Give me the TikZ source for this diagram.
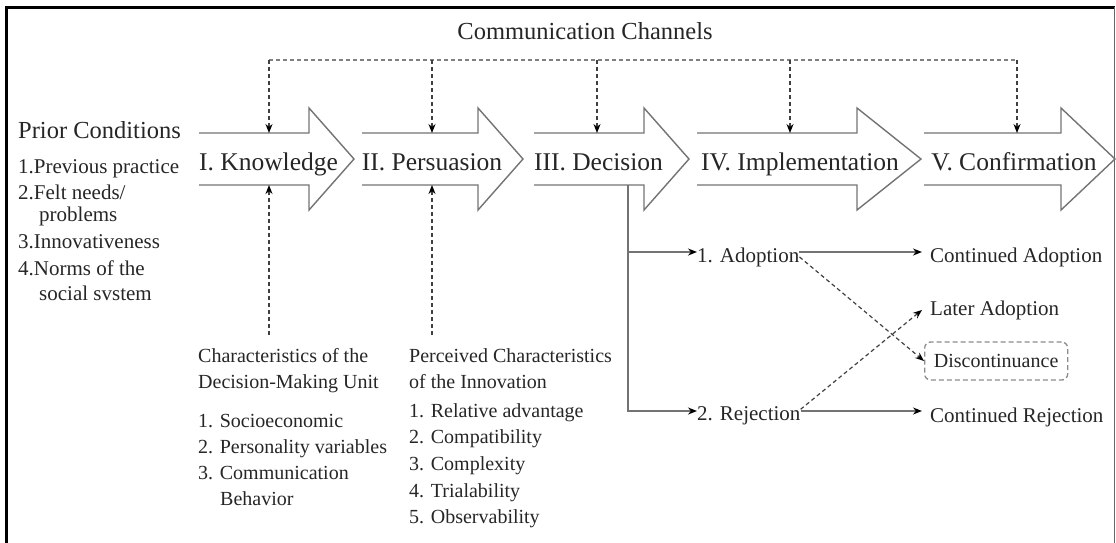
\documentclass[tikz,border=0pt]{standalone}
\usepackage{fontspec}
\setmainfont{Liberation Serif}
\usetikzlibrary{arrows.meta}

\begin{document}
\begin{tikzpicture}[x=1pt, y=-1pt, >={Stealth[length=9pt, width=7pt, color=black]},
  every node/.style={inner sep=0pt, text=black!85},
  stage/.style={draw=black!55, line width=1.4pt, line join=miter},
  stagelbl/.style={font=\fontsize{25.5}{30}\selectfont, anchor=base},
  head/.style={font=\fontsize{24.5}{30}\selectfont, anchor=base west},
  item/.style={font=\fontsize{21}{26}\selectfont, anchor=base west},
  small/.style={font=\fontsize{20}{26}\selectfont, anchor=base west},
  outc/.style={font=\fontsize{21}{26}\selectfont, anchor=base west, inner xsep=8pt},
  chan/.style={dash pattern=on 4pt off 3pt, line width=1.3pt, black!75},
  bus/.style={dash pattern=on 4pt off 3pt, line width=1.2pt, black!50},
  branch/.style={line width=1.4pt, black!55},
  alt/.style={dash pattern=on 4pt off 3pt, line width=1.2pt, black!75},
  disc/.style={draw=black!45, dash pattern=on 5pt off 3pt, line width=1.3pt, rounded corners=6pt,
    minimum width=143pt, minimum height=38pt, anchor=west, font=\fontsize{20}{24}\selectfont}]
  \useasboundingbox (0,0) rectangle (1116,542);

  % Rahmen
  \draw[line width=3pt] (6.5,560) |- (1115,7);
  \draw[black!60, line width=1pt] (1114.5,7) -- (1114.5,560);

  % Kanaele oben
  \node[head, anchor=base] (comm) at (585,39) {Communication Channels};
  \coordinate (bus-w) at (269,60);
  \coordinate (bus-e) at (1017,60);
  \draw[bus] (bus-w) -- (bus-e);

  % Die fuenf Stufen
  \draw[stage] (199,133) -- (309,133) -- (309,108) -- (354,159) -- (309,210) -- (309,185) -- (199,185);
  \draw[stage] (362,133) -- (478,133) -- (478,108) -- (523,159) -- (478,210) -- (478,185) -- (362,185);
  \draw[stage] (534,133) -- (644,133) -- (644,108) -- (689,159) -- (644,210) -- (644,185) -- (534,185);
  \draw[stage] (697,133) -- (857,133) -- (857,108) -- (921,159) -- (857,210) -- (857,185) -- (697,185);
  \draw[stage] (924,133) -- (1061,133) -- (1061,108) -- (1115,159) -- (1061,210) -- (1061,185) -- (924,185);

  \node[stagelbl] (know) at (268.5,170) {I. Knowledge};
  \node[stagelbl] (pers) at (432,170) {II. Persuasion};
  \node[stagelbl] (deci) at (598.5,170) {III. Decision};
  \node[stagelbl] (impl) at (800,170) {IV. Implementation};
  \node[stagelbl] (conf) at (1014,170) {V. Confirmation};

  \coordinate (know-in) at (269,133);
  \coordinate (pers-in) at (432,133);
  \coordinate (deci-in) at (597,133);
  \coordinate (impl-in) at (790,133);
  \coordinate (conf-in) at (1017,133);
  \draw[chan, ->] (know-in |- bus-w) -- (know-in);
  \draw[chan, ->] (pers-in |- bus-w) -- (pers-in);
  \draw[chan, ->] (deci-in |- bus-w) -- (deci-in);
  \draw[chan, ->] (impl-in |- bus-w) -- (impl-in);
  \draw[chan, ->] (conf-in |- bus-w) -- (conf-in);

  % Vorbedingungen
  \node[head] (prior) at (18,138) {Prior Conditions};
  \node[item] (prior-1) at (18,173) {1.Previous practice};
  \node[item] (prior-2) at (18,199) {2.Felt needs/};
  \node[item] (prior-2b) at (39,221) {problems};
  \node[item] (prior-3) at (18,248) {3.Innovativeness};
  \node[item] (prior-4) at (18,275) {4.Norms of the};
  \node[item] (prior-4b) at (39,300) {social svstem};

  % Entscheidungseinheit
  \node[small] (dmu-h1) at (198,362) {Characteristics of the};
  \node[small] (dmu-h2) at (198,388) {Decision-Making Unit};
  \node[small] (dmu-1) at (198,427) {1. Socioeconomic};
  \node[small] (dmu-2) at (198,453) {2. Personality variables};
  \node[small] (dmu-3) at (198,479) {3. Communication};
  \node[small] (dmu-3b) at (220,505) {Behavior};
  \coordinate (dmu-out) at (269,335);
  \coordinate (know-bot) at (269,185);
  \draw[chan, ->] (dmu-out) -- (know-bot);

  % Innovation
  \node[small] (inno-h1) at (409,362) {Perceived Characteristics};
  \node[small] (inno-h2) at (409,388) {of the Innovation};
  \node[small] (inno-1) at (409,417) {1. Relative advantage};
  \node[small] (inno-2) at (409,443) {2. Compatibility};
  \node[small] (inno-3) at (409,470) {3. Complexity};
  \node[small] (inno-4) at (409,497) {4. Trialability};
  \node[small] (inno-5) at (409,523) {5. Observability};
  \coordinate (inno-out) at (432,335);
  \coordinate (pers-bot) at (432,185);
  \draw[chan, ->] (inno-out) -- (pers-bot);

  % Entscheidung und Folgen
  \node[item] (adopt) at (697,262) {1. Adoption};
  \node[item] (reject) at (697,420) {2. Rejection};
  \coordinate (deci-out) at (628,185);
  \coordinate (adopt-in) at (697,252);
  \coordinate (reject-in) at (697,411);
  \draw[branch, ->] (deci-out) |- (reject-in);
  \draw[branch, ->] (deci-out |- adopt-in) -- (adopt-in);

  \node[outc] (cont-adopt) at (922,262) {Continued Adoption};
  \node[outc] (later) at (922,315) {Later Adoption};
  \node[disc] (discont) at (924,361) {Discontinuance};
  \node[outc] (cont-reject) at (922,422) {Continued Rejection};

  \draw[branch, ->] (adopt.east |- adopt-in) -- (cont-adopt.west |- adopt-in);
  \draw[branch, ->] (reject.east |- reject-in) -- (cont-reject.west |- reject-in);
  \draw[alt, ->] (adopt.east) -- (discont.west);
  \draw[alt, ->] ([yshift=6pt]reject.east) -- (later.west);
\end{tikzpicture}
\end{document}
